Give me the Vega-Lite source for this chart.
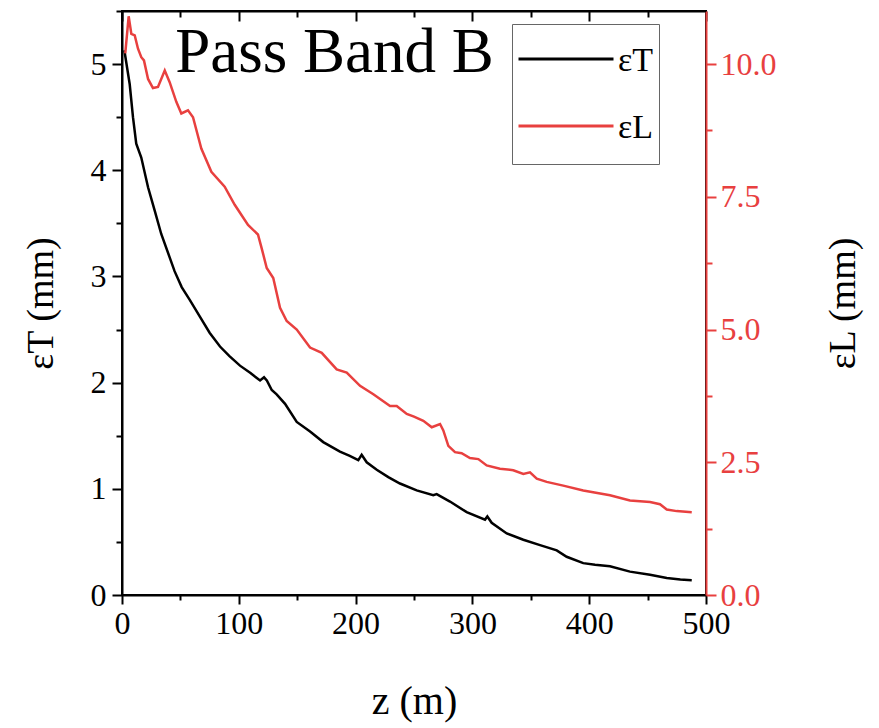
{
  "$schema": "https://vega.github.io/schema/vega-lite/v6.json",
  "width": 584,
  "height": 584,
  "autosize": {"type": "none"},
  "padding": {"left": 122, "top": 11, "right": 173, "bottom": 133},
  "background": "white",
  "config": {
    "view": {"stroke": "black", "strokeWidth": 2},
    "font": "Liberation Serif",
    "axis": {"grid": false, "labelFont": "Liberation Serif", "titleFont": "Liberation Serif", "titleFontWeight": "normal", "labelColor": "black", "titleColor": "black", "domainColor": "black", "tickColor": "black", "domainWidth": 2, "tickWidth": 2}
  },
  "datasets": {
    "T": [
      {"z": 2, "e": 5.13, "s": "εT"}, {"z": 6.6, "e": 4.81, "s": "εT"}, {"z": 9.4, "e": 4.5, "s": "εT"}, {"z": 12.2, "e": 4.25, "s": "εT"}, {"z": 16.5, "e": 4.12, "s": "εT"}, {"z": 22.3, "e": 3.84, "s": "εT"}, {"z": 28, "e": 3.62, "s": "εT"}, {"z": 33.6, "e": 3.4, "s": "εT"}, {"z": 40.8, "e": 3.18, "s": "εT"}, {"z": 45, "e": 3.05, "s": "εT"}, {"z": 51.1, "e": 2.9, "s": "εT"}, {"z": 58, "e": 2.78, "s": "εT"}, {"z": 66.8, "e": 2.62, "s": "εT"}, {"z": 75, "e": 2.47, "s": "εT"}, {"z": 83.9, "e": 2.34, "s": "εT"}, {"z": 92, "e": 2.25, "s": "εT"}, {"z": 101, "e": 2.16, "s": "εT"}, {"z": 110, "e": 2.09, "s": "εT"}, {"z": 118.2, "e": 2.02, "s": "εT"}, {"z": 121.6, "e": 2.05, "s": "εT"}, {"z": 124, "e": 2.02, "s": "εT"}, {"z": 128.2, "e": 1.93, "s": "εT"}, {"z": 132.4, "e": 1.89, "s": "εT"}, {"z": 139.6, "e": 1.8, "s": "εT"}, {"z": 149.6, "e": 1.63, "s": "εT"}, {"z": 161, "e": 1.54, "s": "εT"}, {"z": 172.3, "e": 1.44, "s": "εT"}, {"z": 186.6, "e": 1.35, "s": "εT"}, {"z": 195, "e": 1.31, "s": "εT"}, {"z": 202.3, "e": 1.27, "s": "εT"}, {"z": 205.2, "e": 1.32, "s": "εT"}, {"z": 209.5, "e": 1.25, "s": "εT"}, {"z": 218.1, "e": 1.18, "s": "εT"}, {"z": 228, "e": 1.11, "s": "εT"}, {"z": 238, "e": 1.05, "s": "εT"}, {"z": 252.3, "e": 0.985, "s": "εT"}, {"z": 266.5, "e": 0.94, "s": "εT"}, {"z": 269.4, "e": 0.95, "s": "εT"}, {"z": 280.8, "e": 0.88, "s": "εT"}, {"z": 295.1, "e": 0.78, "s": "εT"}, {"z": 310.8, "e": 0.71, "s": "εT"}, {"z": 312.8, "e": 0.74, "s": "εT"}, {"z": 316.5, "e": 0.68, "s": "εT"}, {"z": 329.4, "e": 0.58, "s": "εT"}, {"z": 343.6, "e": 0.52, "s": "εT"}, {"z": 357.9, "e": 0.47, "s": "εT"}, {"z": 372.2, "e": 0.42, "s": "εT"}, {"z": 380.7, "e": 0.36, "s": "εT"}, {"z": 394.9, "e": 0.3, "s": "εT"}, {"z": 405, "e": 0.285, "s": "εT"}, {"z": 417.8, "e": 0.27, "s": "εT"}, {"z": 434.9, "e": 0.22, "s": "εT"}, {"z": 452.1, "e": 0.19, "s": "εT"}, {"z": 466.4, "e": 0.16, "s": "εT"}, {"z": 478, "e": 0.145, "s": "εT"}, {"z": 487.8, "e": 0.14, "s": "εT"}
    ],
    "L": [
      {"z": 2.8, "e": 10.2, "s": "εL"}, {"z": 5.7, "e": 10.9, "s": "εL"}, {"z": 8, "e": 10.57, "s": "εL"}, {"z": 10.9, "e": 10.54, "s": "εL"}, {"z": 13.7, "e": 10.29, "s": "εL"}, {"z": 16.5, "e": 10.13, "s": "εL"}, {"z": 18.8, "e": 10.07, "s": "εL"}, {"z": 22.3, "e": 9.72, "s": "εL"}, {"z": 26.5, "e": 9.55, "s": "εL"}, {"z": 30.8, "e": 9.57, "s": "εL"}, {"z": 36.6, "e": 9.88, "s": "εL"}, {"z": 40.8, "e": 9.66, "s": "εL"}, {"z": 46.5, "e": 9.29, "s": "εL"}, {"z": 50.8, "e": 9.07, "s": "εL"}, {"z": 56.5, "e": 9.13, "s": "εL"}, {"z": 60.8, "e": 9.0, "s": "εL"}, {"z": 67.9, "e": 8.41, "s": "εL"}, {"z": 76.5, "e": 7.97, "s": "εL"}, {"z": 87.9, "e": 7.69, "s": "εL"}, {"z": 96.5, "e": 7.35, "s": "εL"}, {"z": 107.9, "e": 6.97, "s": "εL"}, {"z": 116.4, "e": 6.79, "s": "εL"}, {"z": 119.6, "e": 6.53, "s": "εL"}, {"z": 123.9, "e": 6.16, "s": "εL"}, {"z": 129.5, "e": 5.97, "s": "εL"}, {"z": 135.3, "e": 5.41, "s": "εL"}, {"z": 141, "e": 5.16, "s": "εL"}, {"z": 149.6, "e": 5.0, "s": "εL"}, {"z": 161, "e": 4.66, "s": "εL"}, {"z": 171, "e": 4.56, "s": "εL"}, {"z": 183.8, "e": 4.25, "s": "εL"}, {"z": 192.4, "e": 4.19, "s": "εL"}, {"z": 203.8, "e": 3.94, "s": "εL"}, {"z": 215.2, "e": 3.78, "s": "εL"}, {"z": 229.5, "e": 3.56, "s": "εL"}, {"z": 235.2, "e": 3.56, "s": "εL"}, {"z": 243.8, "e": 3.41, "s": "εL"}, {"z": 250, "e": 3.36, "s": "εL"}, {"z": 258, "e": 3.28, "s": "εL"}, {"z": 265.2, "e": 3.16, "s": "εL"}, {"z": 272.3, "e": 3.22, "s": "εL"}, {"z": 275.1, "e": 3.1, "s": "εL"}, {"z": 279.4, "e": 2.81, "s": "εL"}, {"z": 285.1, "e": 2.69, "s": "εL"}, {"z": 290.8, "e": 2.67, "s": "εL"}, {"z": 297.9, "e": 2.58, "s": "εL"}, {"z": 305.1, "e": 2.56, "s": "εL"}, {"z": 312.2, "e": 2.44, "s": "εL"}, {"z": 323.6, "e": 2.38, "s": "εL"}, {"z": 335, "e": 2.35, "s": "εL"}, {"z": 343.6, "e": 2.28, "s": "εL"}, {"z": 349.3, "e": 2.31, "s": "εL"}, {"z": 355.1, "e": 2.19, "s": "εL"}, {"z": 363.6, "e": 2.13, "s": "εL"}, {"z": 377.8, "e": 2.06, "s": "εL"}, {"z": 394.9, "e": 1.97, "s": "εL"}, {"z": 417.8, "e": 1.88, "s": "εL"}, {"z": 434.9, "e": 1.78, "s": "εL"}, {"z": 452.1, "e": 1.75, "s": "εL"}, {"z": 460.6, "e": 1.71, "s": "εL"}, {"z": 466.4, "e": 1.61, "s": "εL"}, {"z": 474.9, "e": 1.58, "s": "εL"}, {"z": 487.8, "e": 1.56, "s": "εL"}
    ],
    "note": [{"label": "Pass Band B", "z": 45.5, "e": 4.93}]
  },
  "layer": [
    {
      "data": {"name": "T"},
      "mark": {"type": "line", "strokeWidth": 2.5, "clip": true},
      "encoding": {
        "x": {"field": "z", "type": "quantitative", "scale": {"domain": [0, 500], "nice": false},
          "axis": {"orient": "bottom", "values": [0, 50, 100, 150, 200, 250, 300, 350, 400, 450, 500],
            "labelExpr": "datum.value % 100 === 0 ? format(datum.value, 'd') : ''",
            "tickSize": {"condition": {"test": "datum.value % 100 === 0", "value": 9}, "value": 5},
            "labelFontSize": 32, "labelPadding": 4, "title": "z (m)", "titleFontSize": 40, "titlePadding": 42, "labelFlush": false}},
        "y": {"field": "e", "type": "quantitative", "scale": {"domain": [0, 5.5], "nice": false, "zero": true},
          "axis": {"orient": "left", "values": [0, 0.5, 1, 1.5, 2, 2.5, 3, 3.5, 4, 4.5, 5, 5.5],
            "labelExpr": "datum.value % 1 === 0 ? format(datum.value, 'd') : ''",
            "tickSize": {"condition": {"test": "datum.value % 1 === 0", "value": 10}, "value": 6},
            "labelFontSize": 32, "labelPadding": 6, "title": "εT (mm)", "titleFontSize": 38, "titlePadding": 30}},
        "color": {"field": "s", "type": "nominal", "sort": ["εT", "εL"],
          "scale": {"domain": ["εT", "εL"], "range": ["#000000", "#e8403f"]},
          "legend": {"orient": "none", "legendX": 390, "legendY": 13, "title": " ", "titleOrient": "bottom", "titleFontSize": 8, "titlePadding": 6, "strokeColor": "#666666", "padding": 5, "symbolType": "M-1,-0.4H1", "symbolSize": 9025, "symbolStrokeWidth": 3, "labelFont": "Liberation Serif", "labelFontSize": 34, "labelColor": "black", "labelOffset": 3, "labelBaseline": "bottom", "rowPadding": 18}}
      }
    },
    {
      "data": {"name": "L"},
      "mark": {"type": "line", "strokeWidth": 2.5, "clip": true},
      "encoding": {
        "x": {"field": "z", "type": "quantitative", "scale": {"domain": [0, 500], "nice": false},
          "axis": {"orient": "top", "values": [0, 50, 100, 150, 200, 250, 300, 350, 400, 450, 500],
            "tickSize": {"condition": {"test": "datum.value % 100 === 0", "value": -10}, "value": -6},
            "labels": false, "title": null}},
        "y": {"field": "e", "type": "quantitative", "scale": {"domain": [0, 11], "nice": false, "zero": true},
          "axis": {"orient": "right", "values": [0, 1.25, 2.5, 3.75, 5, 6.25, 7.5, 8.75, 10],
            "labelExpr": "datum.value % 2.5 === 0 ? format(datum.value, '.1f') : ''",
            "tickSize": {"condition": {"test": "datum.value % 2.5 === 0", "value": 10}, "value": 6},
            "labelFontSize": 32, "labelPadding": 4, "labelColor": "#e8403f", "domainColor": "#e8403f", "tickColor": "#e8403f", "title": "εL (mm)", "titleFontSize": 38, "titleAngle": 270, "titlePadding": 86}},
        "color": {"field": "s", "type": "nominal"}
      }
    },
    {
      "data": {"name": "note"},
      "mark": {"type": "text", "align": "left", "baseline": "alphabetic", "font": "Liberation Serif", "fontSize": 63, "color": "black"},
      "encoding": {
        "x": {"field": "z", "type": "quantitative", "scale": {"domain": [0, 500], "nice": false}, "axis": null},
        "y": {"field": "e", "type": "quantitative", "scale": {"domain": [0, 5.5], "nice": false, "zero": true}, "axis": null},
        "text": {"field": "label"}
      }
    },
    {
      "data": {"name": "note"},
      "mark": {"type": "rule", "color": "black", "strokeWidth": 2},
      "encoding": {
        "y": {"datum": 5.5, "type": "quantitative", "scale": {"domain": [0, 5.5], "nice": false, "zero": true}, "axis": null}
      }
    }
  ],
  "resolve": {"scale": {"x": "shared", "y": "independent", "color": "shared"}, "axis": {"x": "independent", "y": "independent"}}
}
